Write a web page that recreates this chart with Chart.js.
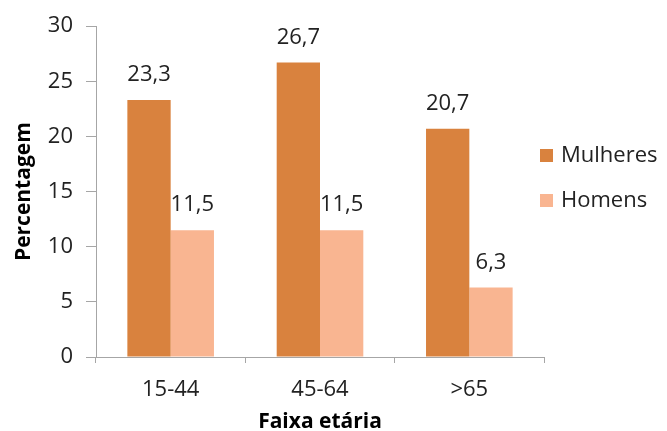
<!DOCTYPE html>
<html>
<head>
<meta charset="utf-8">
<script src="https://cdn.jsdelivr.net/npm/chart.js@4"></script>
<style>
  html, body { margin: 0; padding: 0; background: #fff; }
  #wrap { width: 667px; height: 431px; }
</style>
</head>
<body>
<div id="wrap"><canvas id="chart" width="667" height="431"></canvas></div>
<script>
// Faixas etárias e percentagens por sexo
const faixas = ['15-44', '45-64', '>65'];
const mulheres = [23.3, 26.7, 20.7];
const homens = [11.5, 11.5, 6.3];
const yTicks = [0, 5, 10, 15, 20, 25, 30];

const FONT = "'Open Sans', 'Liberation Sans', sans-serif";
const TEXT = '#222';
const AXIS = '#a6a6a6';

const fmt = v => v.toFixed(1).replace('.', ',');

// Valores escritos por cima de cada barra
const valueLabels = {
    id: 'valueLabels',
    afterDatasetsDraw(chart) {
        const ctx = chart.ctx;
        ctx.save();
        ctx.font = '22px ' + FONT;
        ctx.fillStyle = TEXT;
        ctx.textAlign = 'center';
        ctx.textBaseline = 'alphabetic';
        chart.data.datasets.forEach((ds, i) => {
            chart.getDatasetMeta(i).data.forEach((bar, j) => {
                ctx.fillText(fmt(ds.data[j]), bar.x, bar.y - 19);
            });
        });
        ctx.restore();
    }
};

// Legenda à direita da área do gráfico
const sideLegend = {
    id: 'sideLegend',
    afterDraw(chart) {
        const ctx = chart.ctx;
        const rows = [155, 200];
        ctx.save();
        ctx.font = '22px ' + FONT;
        ctx.textBaseline = 'middle';
        chart.data.datasets.forEach((ds, i) => {
            const y = rows[i];
            ctx.fillStyle = ds.backgroundColor;
            ctx.fillRect(540, y - 6, 13, 13);
            ctx.fillStyle = TEXT;
            ctx.fillText(ds.label, 561, y + 1);
        });
        ctx.restore();
    }
};

new Chart(document.getElementById('chart'), {
    type: 'bar',
    data: {
        labels: faixas,
        datasets: [
            { label: 'Mulheres', data: mulheres, backgroundColor: '#d9823e' },
            { label: 'Homens', data: homens, backgroundColor: '#f9b591' }
        ]
    },
    options: {
        responsive: false,
        animation: false,
        devicePixelRatio: 1,
        layout: { padding: { top: 18, left: 11, right: 123, bottom: 0 } },
        datasets: {
            bar: { categoryPercentage: 0.58, barPercentage: 1.0 }
        },
        plugins: {
            legend: { display: false },
            tooltip: { enabled: false }
        },
        scales: {
            x: {
                grid: { display: true, drawOnChartArea: false, offset: true, tickLength: 6, color: AXIS },
                border: { color: AXIS, width: 1 },
                ticks: { font: { family: FONT, size: 22 }, color: TEXT, padding: 14 },
                title: { display: true, text: 'Faixa etária', font: { family: FONT, size: 21, weight: 'bold' }, color: '#000', padding: { top: 0, bottom: -4 } },
                afterFit(scale) { scale.height = 74; }
            },
            y: {
                min: 0,
                max: 30,
                afterBuildTicks(scale) { scale.ticks = yTicks.map(v => ({ value: v })); },
                grid: { display: true, drawOnChartArea: false, tickLength: 10, color: AXIS },
                border: { color: AXIS, width: 1 },
                ticks: { font: { family: FONT, size: 22 }, color: TEXT, padding: 13 },
                title: { display: true, text: 'Percentagem', font: { family: FONT, size: 21, weight: 'bold' }, color: '#000', padding: { top: 0, bottom: 4 } },
                afterFit(scale) { scale.width = 85; }
            }
        }
    },
    plugins: [valueLabels, sideLegend]
});
</script>
</body>
</html>
